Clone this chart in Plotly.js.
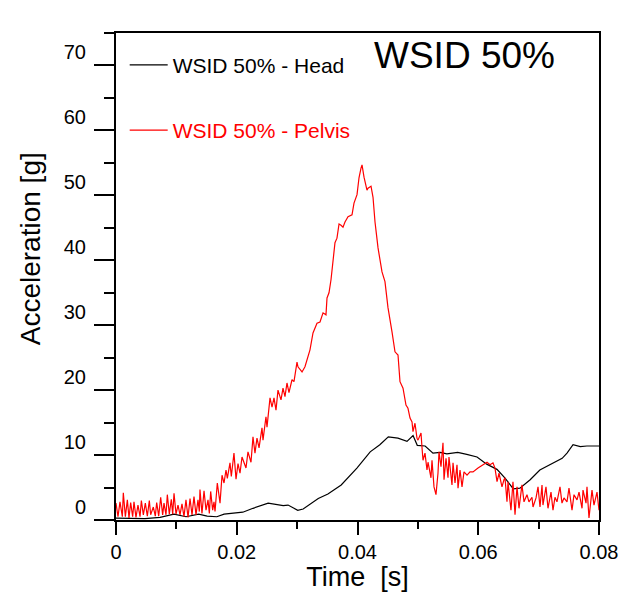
<!DOCTYPE html>
<html>
<head>
<meta charset="utf-8">
<script src="https://cdn.plot.ly/plotly-3.0.1.min.js"></script>
<style>html,body{margin:0;padding:0;background:#fff;}#chart{width:621px;height:592px;}</style>
</head>
<body>
<div id="chart"></div>
<script>
// Time [s] and acceleration [g]
const headT = [0.0000,0.0023,0.0048,0.0073,0.0096,0.0116,0.0137,0.0151,0.0167,0.0179,0.0192,0.0210,0.0227,0.0252,0.0277,0.0285,0.0301,0.0310,0.0335,0.0351,0.0373,0.0399,0.0421,0.0437,0.0451,0.0467,0.0482,0.0492,0.0499,0.0512,0.0525,0.0537,0.0548,0.0566,0.0581,0.0598,0.0614,0.0631,0.0644,0.0658,0.0669,0.0686,0.0702,0.0719,0.0739,0.0747,0.0757,0.0769,0.0780,0.0800];
const headG = [0.3,0.3,0.2,0.4,0.9,0.5,0.9,0.6,0.5,0.9,1.0,1.2,1.8,2.6,2.2,2.3,1.5,1.7,3.3,4.0,5.4,8.0,10.5,11.6,12.8,12.6,12.1,13.0,11.5,11.4,10.3,10.4,10.2,10.4,10.1,9.7,8.6,7.8,6.5,4.8,4.9,6.2,7.7,8.5,9.5,10.3,11.6,11.3,11.4,11.4];

const pelvisT = [0.00000,0.00033,0.00066,0.00105,0.00121,0.00155,0.00188,0.00215,0.00243,0.00276,0.00298,0.00331,0.00364,0.00398,0.00420,0.00453,0.00486,0.00519,0.00552,0.00574,0.00618,0.00651,0.00674,0.00707,0.00740,0.00773,0.00795,0.00828,0.00850,0.00883,0.00916,0.00939,0.00961,0.00994,0.01027,0.01060,0.01093,0.01126,0.01159,0.01193,0.01226,0.01259,0.01292,0.01325,0.01358,0.01380,0.01391,0.01424,0.01458,0.01491,0.01524,0.01546,0.01568,0.01601,0.01623,0.01640,0.01678,0.01723,0.01756,0.01789,0.01822,0.01844,0.01888,0.01910,0.01954,0.01988,0.02021,0.02054,0.02087,
0.02153,0.02186,0.02236,0.02269,0.02302,0.02335,0.02369,0.02418,0.02435,0.02484,0.02501,0.02551,0.02584,0.02617,0.02650,0.02683,0.02733,0.02766,0.02799,0.02832,0.02865,0.02915,0.02948,0.02998,0.03014,0.03081,0.03130,0.03213,0.03263,0.03329,0.03379,0.03429,0.03478,0.03495,0.03528,0.03561,
0.03578,0.03627,0.03660,0.03694,0.03727,0.03760,0.03793,0.03843,0.03909,0.03942,0.03992,0.04025,0.04058,0.04075,0.04108,0.04157,0.04174,0.04224,0.04257,0.04290,0.04340,0.04406,0.04455,0.04505,0.04571,0.04621,0.04671,0.04704,0.04754,0.04803,0.04836,0.04870,0.04903,0.04919,0.04952,0.04985,
0.05002,0.05052,0.05068,0.05085,0.05118,0.05151,0.05168,0.05217,0.05234,0.05267,0.05300,0.05333,0.05350,0.05383,0.05416,0.05433,0.05466,0.05499,0.05515,0.05565,0.05582,0.05615,0.05648,0.05665,0.05698,0.05731,0.05764,0.05814,0.05863,0.05913,0.05996,0.06079,0.06145,0.06195,0.06244,0.06277,0.06311,0.06344,0.06393,0.06426,
0.06443,0.06476,0.06493,0.06542,0.06575,0.06609,0.06642,0.06675,0.06724,0.06758,0.06807,0.06840,0.06890,0.06907,0.06957,0.06990,0.07023,0.07056,0.07072,0.07122,0.07155,0.07205,0.07238,0.07271,0.07304,0.07354,0.07387,0.07420,0.07470,0.07503,0.07553,0.07586,0.07636,0.07669,0.07719,0.07735,0.07785,0.07801,0.07834,0.07884,0.07917,0.07967,0.08000];
const pelvisG = [2.6,0.5,2.8,0.5,4.2,0.5,3.1,0.3,2.7,0.5,2.8,0.4,2.3,0.5,3.0,0.8,2.6,0.6,3.0,0.8,2.0,0.6,2.7,0.6,3.5,0.8,2.6,0.8,3.9,0.9,3.2,0.9,4.1,0.9,2.3,0.8,2.5,0.5,3.1,0.4,3.3,0.8,3.6,0.8,3.1,1.3,4.7,1.0,4.5,1.5,3.1,1.0,4.4,1.5,2.8,1.3,5.7,2.6,6.9,5.7,7.7,6.4,8.8,6.7,10.3,6.3,8.7,7.2,9.7,
8.0,10.5,8.9,12.8,10.3,12.6,11.1,14.2,12.3,15.9,14.3,18.8,17.4,18.8,16.9,20.0,18.5,20.3,19.0,21.1,19.6,21.6,21.3,24.3,23.6,22.8,23.6,26.2,28.8,30.3,30.5,31.9,31.6,34.2,35.0,37.0,
38.5,42.7,43.4,45.6,45.4,45.1,45.9,46.7,47.0,48.8,50.1,52.7,54.2,54.7,52.8,50.8,51.1,51.4,49.7,45.9,41.9,38.2,36.7,32.7,29.0,25.9,25.4,21.3,20.3,17.7,17.2,15.7,15.1,13.6,14.9,12.6,
12.3,13.4,11.2,9.2,10.3,7.7,8.9,6.5,9.2,5.1,3.9,7.2,10.5,8.2,11.9,6.2,9.5,6.5,9.7,5.4,8.8,5.7,8.5,4.9,7.7,5.1,7.4,6.9,7.4,7.4,8.0,8.5,8.9,8.5,8.8,8.0,5.9,7.2,5.1,6.2,
6.5,2.8,5.9,1.5,5.9,0.8,5.1,1.8,5.4,2.8,3.9,2.8,3.5,2.0,3.4,5.1,2.0,5.4,2.3,5.1,1.8,4.3,1.5,3.5,2.8,5.1,2.6,3.4,2.8,4.9,1.5,3.9,3.1,4.3,1.8,4.6,2.6,5.1,0.3,4.6,2.3,4.3,1.5];

const seriesNames = ['WSID 50% - Head', 'WSID 50% - Pelvis'];
const chartLabel = 'WSID 50%';
const xTitle = 'Time\u00a0\u00a0[s]';
const yTitle = 'Acceleration [g]';

const FONT = 'Liberation Sans, Arial, sans-serif';

const traces = [
  {x: headT, y: headG, type: 'scatter', mode: 'lines', name: seriesNames[0], legendgroup: 'a',
   line: {color: '#000000', width: 1.2}},
  {x: pelvisT, y: pelvisG, type: 'scatter', mode: 'lines', name: '<span style="color:#ff0000">' + seriesNames[1] + '</span>', legendgroup: 'b',
   line: {color: '#ff0000', width: 1.2}}
];

const layout = {
  width: 621, height: 592,
  margin: {l: 116, r: 22, t: 33, b: 72, pad: 0},
  paper_bgcolor: '#ffffff', plot_bgcolor: '#ffffff',
  font: {family: FONT, color: '#000000', size: 20},
  showlegend: true,
  legend: {x: 0.018, y: 0.976, xanchor: 'left', yanchor: 'top', bgcolor: 'rgba(0,0,0,0)',
           itemwidth: 38,
           font: {family: FONT, size: 21, color: '#000000'}, traceorder: 'grouped', tracegroupgap: 35},
  xaxis: {range: [0, 0.08], dtick: 0.02, tick0: 0, showgrid: false, zeroline: false,
          showline: true, linecolor: '#000', linewidth: 2, mirror: true,
          ticks: 'outside', ticklen: 13, tickwidth: 2, tickcolor: '#000',
          minor: {dtick: 0.01, ticks: 'outside', ticklen: 7, tickwidth: 2, tickcolor: '#000'},
          tickfont: {family: FONT, size: 20},
          title: {text: xTitle, font: {family: FONT, size: 27}, standoff: 6}},
  yaxis: {range: [0, 75], dtick: 10, tick0: 0, showgrid: false, zeroline: false,
          showline: true, linecolor: '#000', linewidth: 2, mirror: true,
          ticks: 'outside', ticklen: 20, tickwidth: 2, tickcolor: '#000',
          minor: {dtick: 5, ticks: 'outside', ticklen: 10, tickwidth: 2, tickcolor: '#000'},
          tickfont: {family: FONT, size: 20}, ticklabelshift: -13, ticklabelstandoff: 4},
  annotations: [
    {text: yTitle, xref: 'paper', yref: 'paper', x: -0.178, y: 0.556, xanchor: 'center', yanchor: 'middle',
     textangle: -90, showarrow: false, font: {family: FONT, size: 28, color: '#000'}},
    {text: chartLabel, xref: 'paper', yref: 'paper', x: (464 - 116) / 483, y: (520 - 55) / 487, xanchor: 'center', yanchor: 'middle',
     showarrow: false, font: {family: FONT, size: 37, color: '#000'}}
  ]
};

Plotly.newPlot('chart', traces, layout, {displayModeBar: false, staticPlot: true});
</script>
</body>
</html>
